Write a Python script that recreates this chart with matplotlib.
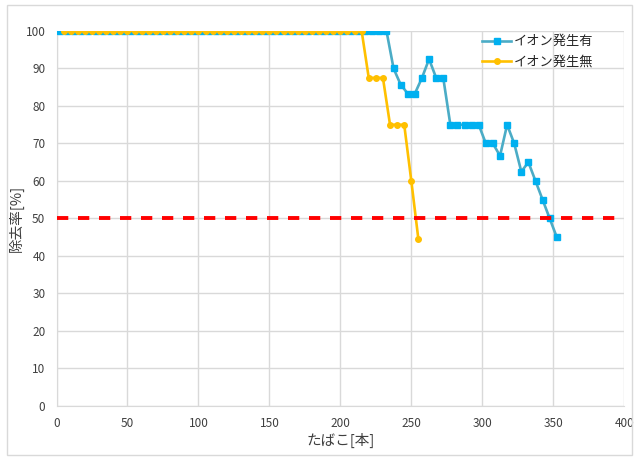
import numpy as np
import matplotlib.pyplot as plt

plt.rcParams['font.family'] = ['Noto Sans CJK JP', 'DejaVu Sans']

# イオン発生有 (ion generator on)
ion_on_x = [2.5 + 5 * i for i in range(71)]
ion_on_y = [100] * 47 + [90, 85.7, 83.3, 83.3, 87.5, 92.5, 87.5, 87.5,
                         75, 75, 75, 75, 75, 70, 70, 66.7, 75, 70,
                         62.5, 65, 60, 55, 50, 45]

# イオン発生無 (ion generator off)
ion_off_x = [5 + 5 * i for i in range(51)]
ion_off_y = [100] * 43 + [87.5, 87.5, 87.5, 75, 75, 75, 60, 44.4]

THRESHOLD = 50
x_ticks = np.arange(0, 401, 50)
y_ticks = np.arange(0, 101, 10)

fig = plt.figure(figsize=(6.35, 4.57), dpi=100)
ax = fig.add_axes([0.089, 0.1116, 0.894, 0.8206])

ax.plot(ion_on_x, ion_on_y, color='#4BACC6', lw=1.9, marker='s', ms=5,
        mfc='#00B0F0', mec='#00B0F0', label='イオン発生有', zorder=3)
ax.plot(ion_off_x, ion_off_y, color='#FFC000', lw=1.9, marker='o', ms=4,
        mfc='#FFC000', mec='#FFC000', label='イオン発生無', zorder=4)
ax.axhline(THRESHOLD, color='#FF0000', lw=2.8, dashes=(2.9, 2.5), zorder=5)

ax.set_xlim(0, 400)
ax.set_ylim(0, 100)
ax.set_xticks(x_ticks)
ax.set_yticks(y_ticks)
ax.grid(True, color='#D9D9D9', lw=1)
ax.set_axisbelow(True)
for side in ['top', 'right']:
    ax.spines[side].set_visible(False)
for side in ['left', 'bottom']:
    ax.spines[side].set_color('#D9D9D9')
ax.tick_params(length=0, labelsize=8.5, colors='#404040', pad=8)

ax.set_xlabel('たばこ[本]', fontsize=10.5, color='#404040', labelpad=2)
ax.set_ylabel('除去率[%]', fontsize=10.5, color='#404040', labelpad=1)

leg = ax.legend(loc='upper right', bbox_to_anchor=(0.96, 1.01), frameon=False,
                fontsize=9.5, handlelength=2.2, handletextpad=0.2,
                labelspacing=0.55, borderaxespad=0.2)
for t in leg.get_texts():
    t.set_color('#262626')

# light frame around the whole figure
fig.patches.append(plt.Rectangle((0.011, 0.004), 0.985, 0.985, transform=fig.transFigure,
                                 fill=False, ec='#D9D9D9', lw=1))

fig.savefig('out.png', dpi=100)
